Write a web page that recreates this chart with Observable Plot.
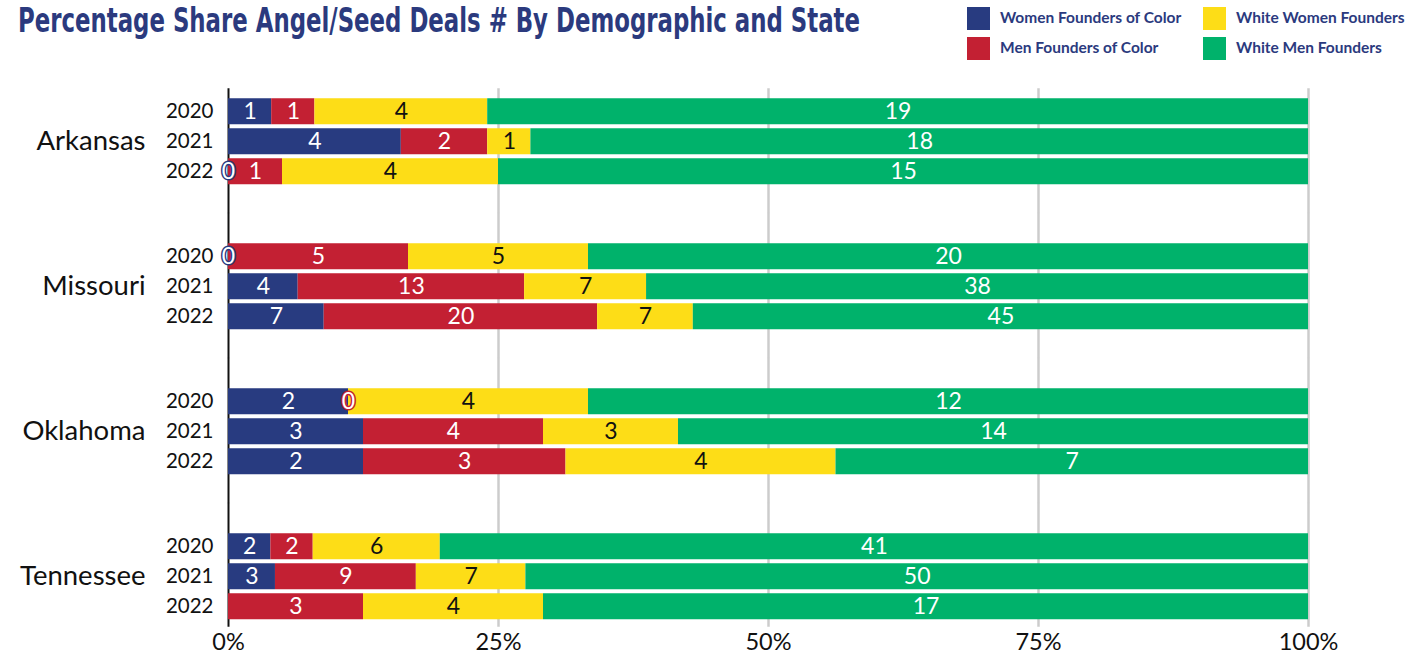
<!DOCTYPE html>
<html>
<head>
<meta charset="utf-8">
<script src="https://cdn.jsdelivr.net/npm/d3@7"></script>
<script src="https://cdn.jsdelivr.net/npm/@observablehq/plot@0.6"></script>
<style>
  body { margin: 0; background: #fff; font-family: Lato, "Noto Sans", sans-serif; }
  #header { position: relative; width: 1412px; height: 80px; }
  #title { position: absolute; left: 18px; top: 1px; font-family: 'Liberation Sans Narrow', 'DejaVu Sans Condensed', sans-serif;
           font-weight: 700; font-size: 33px; line-height: 40px; color: #2b3a7e; white-space: nowrap; transform-origin: 0 0; }
  .sw { position: absolute; width: 23px; height: 23px; }
  .lg { position: absolute; font-family: Lato, sans-serif; font-weight: 700; font-size: 15.5px; color: #2b3a7e; line-height: 23px; white-space: nowrap; }
  #chart svg { display: block; }
</style>
</head>
<body>
<div id="header">
  <div id="title">Percentage Share Angel/Seed Deals # By Demographic and State</div>
  <div id="legend"></div>
</div>
<div id="chart"></div>
<script>
const states = ["Arkansas", "Missouri", "Oklahoma", "Tennessee"];
const years = ["2020", "2021", "2022"];
const groups = ["Women Founders of Color", "Men Founders of Color", "White Women Founders", "White Men Founders"];
const colors = ["#283b80", "#c32033", "#fddd17", "#00b26b"];
// values per state (Arkansas, Missouri, Oklahoma, Tennessee) x year (2020, 2021, 2022)
const womenOfColor = [1, 4, 0,   0, 4, 7,    2, 3, 2,   2, 3, null];
const menOfColor   = [1, 2, 1,   5, 13, 20,  0, 4, 3,   2, 9, 3];
const whiteWomen   = [4, 1, 4,   5, 7, 7,    4, 3, 4,   6, 7, 4];
const whiteMen     = [19, 18, 15, 20, 38, 45, 12, 14, 7, 41, 50, 17];
const xTicks = [0, 0.25, 0.5, 0.75, 1];

const series = [womenOfColor, menOfColor, whiteWomen, whiteMen];
const data = [];
states.forEach((state, si) => {
  years.forEach((year, yi) => {
    groups.forEach((group, gi) => {
      const v = series[gi][si * 3 + yi];
      data.push({state, year, group, value: v ?? 0, shown: v != null});
    });
  });
});

// title: condense to the reference width
const title = document.getElementById("title");
const tw = title.getBoundingClientRect().width;
title.style.transform = `scaleX(${842 / tw})`;

// legend
const legend = document.getElementById("legend");
const legendPos = [[967, 7], [967, 37], [1203, 7], [1203, 37]];
groups.forEach((g, i) => {
  const [x, y] = legendPos[i];
  const sw = document.createElement("div");
  sw.className = "sw"; sw.style.left = x + "px"; sw.style.top = y + "px"; sw.style.background = colors[i];
  const t = document.createElement("div");
  t.className = "lg"; t.style.left = (x + 33) + "px"; t.style.top = (y - 1) + "px"; t.textContent = g;
  legend.appendChild(sw); legend.appendChild(t);
});

// gridlines that run through the gaps between state groups
const gap = 27.1;
const gridMarks = [];
states.forEach((state, i) => {
  const insetTop = i === 0 ? -6.75 : -gap;
  const insetBottom = i === states.length - 1 ? -5.75 : -gap;
  gridMarks.push(Plot.ruleX(xTicks.filter(t => t > 0).map(t => ({t, state})),
    {x: "t", fy: "state", stroke: "#cccccc", strokeWidth: 2.5, insetTop, insetBottom}));
  gridMarks.push(Plot.ruleX([{t: 0, state}],
    {x: "t", fy: "state", stroke: "#111", strokeWidth: 2, insetTop, insetBottom}));
});

const stackOpts = {x: "value", y: "year", fy: "state", z: "group", offset: "normalize"};

const chart = Plot.plot({
  width: 1412,
  height: 580,
  marginTop: 13.75,
  marginBottom: 37.75,
  marginLeft: 228,
  marginRight: 104,
  style: {fontFamily: "Lato, sans-serif", color: "#111", background: "#fff"},
  x: {domain: [0, 1]},
  y: {domain: years, paddingInner: 0.15, paddingOuter: 0.075},
  fy: {domain: states, paddingInner: 0.372, paddingOuter: 0},
  color: {domain: groups, range: colors},
  marks: [
    ...gridMarks,
    Plot.barX(data, Plot.stackX({...stackOpts, fill: "group"})),
    Plot.textX(data, Plot.stackX({...stackOpts,
      text: d => (d.value > 0 && d.group !== groups[2]) ? String(d.value) : null,
      fill: "white", fontSize: 23})),
    Plot.textX(data, Plot.stackX({...stackOpts,
      text: d => (d.value > 0 && d.group === groups[2]) ? String(d.value) : null,
      fill: "#111", fontSize: 23})),
    Plot.textX(data, Plot.stackX({...stackOpts,
      text: d => (d.value === 0 && d.shown) ? "0" : null,
      fill: "white", stroke: "group", strokeWidth: 3, paintOrder: "stroke", fontSize: 23})),
    Plot.axisX({ticks: xTicks, tickFormat: d3.format(".0%"), tickSize: 0, tickPadding: 12, fontSize: 23.5, label: null}),
    Plot.axisY({tickSize: 0, tickPadding: 15, fontSize: 20.5, label: null}),
    Plot.axisFy({anchor: "left", tickSize: 0, tickPadding: 83, fontSize: 27.5, label: null})
  ]
});
document.getElementById("chart").appendChild(chart);
</script>
</body>
</html>
